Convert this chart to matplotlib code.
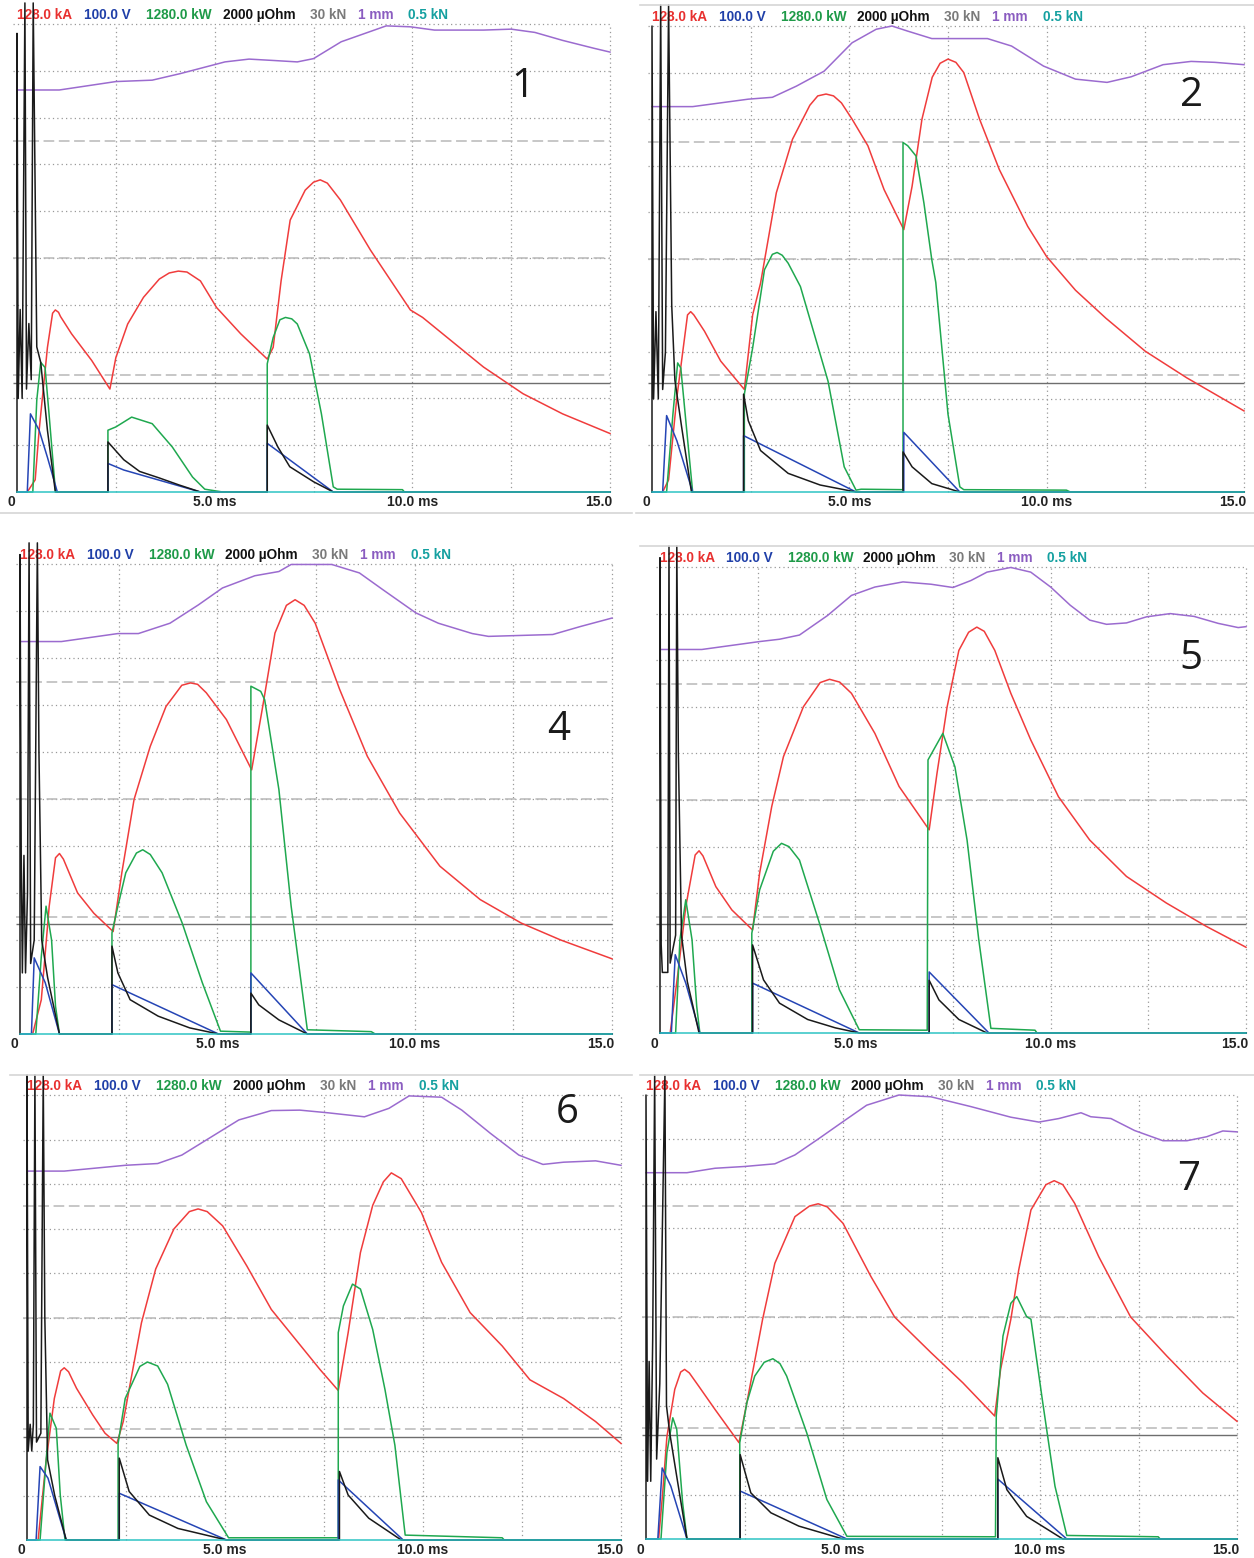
import matplotlib.pyplot as plt
from matplotlib.lines import Line2D

# traces: (time in ms, screen divisions 0..10)
# ---------- panel 1 ----------
p1_purple = [(0, 8.59), (1.07, 8.59), (2.5, 8.77), (3.42, 8.80), (4.13, 8.94), (5.26, 9.19), (5.87, 9.25),
             (6.5, 9.22), (7.09, 9.19), (7.5, 9.26), (8.2, 9.62), (9.34, 9.96), (9.95, 9.94), (10.56, 9.87),
             (11.8, 9.87), (12.5, 9.89), (13.1, 9.82), (13.8, 9.65), (14.6, 9.48), (15, 9.40)]
p1_red = [(0, 0), (0.26, 0), (0.46, 0.26), (0.56, 1.32), (0.77, 3.09), (0.9, 3.82), (0.97, 3.89), (1.05, 3.84),
          (1.1, 3.75), (1.38, 3.38), (1.89, 2.81), (2.35, 2.2), (2.5, 2.87), (2.8, 3.59), (3.2, 4.16), (3.6, 4.55),
          (3.85, 4.68), (4.08, 4.72), (4.3, 4.7), (4.64, 4.51), (5.05, 3.94), (5.66, 3.38), (6.33, 2.84),
          (6.48, 3.09), (6.68, 4.51), (6.91, 5.81), (7.29, 6.45), (7.5, 6.62), (7.67, 6.67), (7.85, 6.6),
          (8.18, 6.24), (8.94, 5.17), (9.95, 3.89), (10.26, 3.73), (11.8, 2.67), (12.8, 2.1), (13.8, 1.67),
          (15, 1.25)]
p1_green = [(0, 0), (0.4, 0), (0.5, 1.96), (0.6, 2.77), (0.71, 2.66), (0.81, 1.67), (0.97, 0.04), (1.0, 0),
            (2.3, 0), (2.3, 1.32), (2.5, 1.39), (2.9, 1.6), (3.42, 1.46), (3.93, 0.96), (4.44, 0.32), (4.75, 0.06),
            (5.05, 0.02), (5.2, 0), (6.33, 0), (6.33, 2.74), (6.48, 3.3), (6.65, 3.68), (6.79, 3.73), (6.95, 3.7),
            (7.09, 3.59), (7.4, 2.95), (7.7, 1.67), (8.0, 0.11), (8.1, 0.06), (9.75, 0.05), (9.8, 0), (15, 0)]
p1_blue = [(0, 0), (0.26, 0), (0.34, 1.67), (0.56, 1.32), (0.77, 0.74), (1.02, 0), (2.3, 0), (2.3, 0.61),
           (2.7, 0.47), (4.64, 0), (6.33, 0), (6.33, 1.04), (8.0, 0), (15, 0)]
p1_black = [(0, 0), (0, 9.8), (0.03, 2.0), (0.08, 3.9), (0.13, 2.0), (0.2, 10.45), (0.24, 2.2), (0.3, 3.6),
            (0.36, 2.4), (0.41, 10.45), (0.5, 3.1), (0.6, 2.77), (0.77, 1.32), (0.97, 0), (2.3, 0), (2.3, 1.07),
            (2.7, 0.69), (3.1, 0.44), (3.6, 0.3), (4.1, 0.15), (4.64, 0), (6.33, 0), (6.33, 1.43), (6.6, 0.96),
            (6.9, 0.54), (7.5, 0.22), (8.0, 0), (15, 0)]

# ---------- panel 2 ----------
p2_purple = [(0, 8.27), (1.03, 8.27), (2.44, 8.43), (3.05, 8.47), (3.66, 8.71), (4.36, 9.03), (5.07, 9.64),
             (5.68, 9.93), (6.08, 10.0), (6.48, 9.89), (7.09, 9.73), (8.5, 9.73), (9.11, 9.57), (9.92, 9.14),
             (10.73, 8.86), (11.53, 8.79), (12.14, 8.91), (12.95, 9.17), (13.66, 9.24), (14.26, 9.22), (15, 9.17)]
p2_red = [(0, 0), (0.27, 0), (0.42, 0.26), (0.63, 2.03), (0.9, 3.8), (0.98, 3.87), (1.06, 3.8), (1.33, 3.45),
          (1.74, 2.81), (2.34, 2.2), (2.55, 3.8), (2.75, 4.48), (3.15, 6.42), (3.56, 7.57), (4.0, 8.3),
          (4.2, 8.5), (4.41, 8.54), (4.6, 8.5), (4.8, 8.35), (5.07, 8.0), (5.47, 7.43), (5.88, 6.49),
          (6.38, 5.63), (6.59, 6.56), (6.84, 8.0), (7.1, 8.9), (7.3, 9.2), (7.5, 9.29), (7.7, 9.22), (7.9, 9.0),
          (8.3, 8.0), (8.8, 6.92), (9.52, 5.7), (10.0, 5.05), (10.73, 4.33), (11.5, 3.73), (12.5, 3.02),
          (13.55, 2.45), (15, 1.74)]
p2_green = [(0, 0), (0.37, 0), (0.53, 1.67), (0.65, 2.77), (0.73, 2.66), (0.88, 1.32), (1.03, 0), (2.34, 0),
            (2.34, 2.1), (2.55, 3.09), (2.85, 4.77), (3.05, 5.1), (3.17, 5.14), (3.3, 5.08), (3.45, 4.91),
            (3.76, 4.41), (4.46, 2.38), (4.87, 0.54), (5.17, 0.04), (5.3, 0.06), (6.36, 0.05), (6.36, 7.5),
            (6.48, 7.43), (6.69, 7.21), (6.89, 6.2), (7.09, 4.98), (7.19, 4.5), (7.5, 1.67), (7.8, 0.11),
            (7.9, 0.05), (10.5, 0.04), (10.6, 0), (15, 0)]
p2_blue = [(0, 0), (0.27, 0), (0.37, 1.64), (0.63, 1.1), (1.03, 0), (2.32, 0), (2.32, 1.21), (5.17, 0),
           (6.38, 0), (6.38, 1.28), (7.8, 0), (15, 0)]
p2_black = [(0, 0), (0, 10.0), (0.04, 2.0), (0.1, 3.87), (0.16, 2.0), (0.22, 10.45), (0.27, 2.2), (0.34, 3.0),
            (0.42, 10.45), (0.5, 4.0), (0.58, 2.4), (0.75, 1.4), (1.0, 0), (2.32, 0), (2.32, 2.1), (2.44, 1.53),
            (2.75, 0.89), (3.45, 0.4), (4.26, 0.15), (5.17, 0), (6.36, 0), (6.36, 0.86), (6.59, 0.54),
            (7.09, 0.18), (7.8, 0), (15, 0)]

# ---------- panel 4 ----------
p4_purple = [(0, 8.35), (1.05, 8.35), (2.48, 8.52), (3.0, 8.52), (3.8, 8.74), (4.52, 9.13), (5.13, 9.49),
             (5.95, 9.75), (6.56, 9.84), (6.87, 9.99), (7.9, 9.99), (8.6, 9.81), (9.2, 9.45), (10.03, 8.96),
             (10.6, 8.74), (11.46, 8.52), (11.87, 8.46), (13.5, 8.5), (14.2, 8.67), (15, 8.85)]
p4_red = [(0, 0), (0.32, 0), (0.54, 0.73), (0.74, 2.72), (0.9, 3.75), (1.0, 3.84), (1.1, 3.72), (1.46, 3.0),
          (1.87, 2.57), (2.36, 2.18), (2.58, 3.43), (2.89, 4.99), (3.3, 6.12), (3.7, 6.97), (4.1, 7.42),
          (4.32, 7.47), (4.5, 7.44), (4.72, 7.26), (5.23, 6.69), (5.87, 5.62), (6.15, 6.97), (6.46, 8.53),
          (6.75, 9.12), (6.97, 9.24), (7.2, 9.12), (7.48, 8.74), (8.1, 7.33), (8.8, 5.91), (9.62, 4.7),
          (10.64, 3.57), (11.66, 2.86), (12.7, 2.36), (13.7, 2.0), (15, 1.6)]
p4_green = [(0, 0), (0.4, 0), (0.54, 1.65), (0.66, 2.72), (0.8, 2.0), (0.9, 0.59), (1.0, 0), (2.33, 0),
            (2.33, 2.15), (2.48, 2.72), (2.68, 3.43), (2.95, 3.85), (3.11, 3.92), (3.3, 3.82), (3.6, 3.43),
            (4.11, 2.36), (4.62, 1.09), (5.08, 0.06), (5.85, 0.04), (5.85, 7.4), (6.1, 7.29), (6.2, 7.11),
            (6.56, 5.2), (6.87, 2.72), (7.28, 0.09), (8.9, 0.05), (9.0, 0), (15, 0)]
p4_blue = [(0, 0), (0.29, 0), (0.36, 1.62), (0.64, 1.09), (1.0, 0), (2.33, 0), (2.33, 1.05), (5.03, 0),
           (5.85, 0), (5.85, 1.3), (7.28, 0), (15, 0)]
p4_black = [(0, 0), (0, 10.2), (0.03, 3.9), (0.06, 1.3), (0.1, 3.8), (0.14, 1.3), (0.19, 3.0), (0.23, 10.45),
            (0.27, 1.5), (0.36, 2.0), (0.44, 10.45), (0.48, 6.0), (0.55, 2.0), (0.7, 1.2), (1.0, 0), (2.33, 0),
            (2.33, 1.87), (2.48, 1.3), (2.79, 0.73), (3.5, 0.38), (4.3, 0.13), (5.03, 0), (5.85, 0),
            (5.85, 0.87), (6.05, 0.62), (6.56, 0.3), (7.28, 0), (15, 0)]

# ---------- panel 5 ----------
p5_purple = [(0, 8.23), (1.07, 8.23), (2.55, 8.4), (3.06, 8.45), (3.57, 8.54), (4.29, 8.96), (4.9, 9.39),
             (5.5, 9.57), (6.22, 9.68), (6.94, 9.63), (7.5, 9.56), (7.96, 9.71), (8.37, 9.89), (8.98, 9.99),
             (9.49, 9.89), (10.0, 9.57), (10.5, 9.18), (11.0, 8.86), (11.43, 8.77), (11.94, 8.8), (12.45, 8.93),
             (13.06, 9.0), (13.67, 8.94), (14.29, 8.79), (14.8, 8.7), (15, 8.72)]
p5_red = [(0, 0), (0.26, 0), (0.46, 1.29), (0.66, 2.71), (0.9, 3.82), (1.0, 3.91), (1.1, 3.8), (1.43, 3.14),
          (1.84, 2.64), (2.37, 2.21), (2.55, 3.43), (2.86, 4.86), (3.16, 5.93), (3.67, 7.0), (4.1, 7.52),
          (4.34, 7.59), (4.6, 7.53), (4.9, 7.29), (5.5, 6.43), (6.12, 5.29), (6.89, 4.36), (7.09, 5.57),
          (7.35, 7.0), (7.65, 8.21), (7.9, 8.6), (8.11, 8.71), (8.3, 8.62), (8.57, 8.21), (8.98, 7.29),
          (9.49, 6.29), (10.2, 5.07), (11.0, 4.14), (11.94, 3.36), (12.96, 2.79), (13.98, 2.29), (15, 1.84)]
p5_green = [(0, 0), (0.4, 0), (0.51, 2.0), (0.66, 2.86), (0.82, 2.0), (0.94, 0.57), (1.02, 0), (2.35, 0),
            (2.35, 2.14), (2.55, 3.07), (2.9, 3.9), (3.11, 4.07), (3.3, 4.0), (3.57, 3.71), (4.08, 2.36),
            (4.59, 0.93), (5.1, 0.07), (6.84, 0.06), (6.86, 5.86), (7.24, 6.43), (7.55, 5.71), (7.86, 4.14),
            (8.16, 2.0), (8.47, 0.1), (9.6, 0.06), (9.65, 0), (15, 0)]
p5_blue = [(0, 0), (0.29, 0), (0.39, 1.68), (0.66, 1.07), (1.02, 0), (2.37, 0), (2.37, 1.07), (5.1, 0),
           (6.89, 0), (6.89, 1.31), (8.42, 0), (15, 0)]
p5_black = [(0, 0), (0, 10.2), (0.03, 1.9), (0.06, 1.3), (0.2, 1.3), (0.23, 10.45), (0.26, 1.5), (0.4, 2.1),
            (0.43, 10.45), (0.47, 6.0), (0.55, 2.1), (0.7, 1.1), (1.0, 0), (2.37, 0), (2.37, 1.89), (2.65, 1.14),
            (3.06, 0.64), (3.78, 0.29), (4.49, 0.11), (5.1, 0), (6.89, 0), (6.89, 1.13), (7.14, 0.71),
            (7.65, 0.29), (8.37, 0), (15, 0)]

# ---------- panel 6 ----------
p6_purple = [(0, 8.29), (0.94, 8.29), (2.48, 8.42), (3.3, 8.46), (3.91, 8.65), (4.53, 8.99), (5.35, 9.44),
             (6.17, 9.65), (6.89, 9.66), (7.6, 9.6), (8.52, 9.51), (9.14, 9.7), (9.65, 9.98), (10.47, 9.95),
             (10.98, 9.66), (11.7, 9.14), (12.42, 8.65), (13.03, 8.44), (13.55, 8.49), (14.36, 8.52), (15, 8.42)]
p6_red = [(0, 0), (0.28, 0), (0.48, 1.76), (0.69, 3.18), (0.85, 3.8), (0.94, 3.87), (1.05, 3.78), (1.25, 3.41),
          (1.66, 2.81), (1.97, 2.4), (2.27, 2.17), (2.43, 2.66), (2.63, 3.63), (2.89, 4.88), (3.25, 6.09),
          (3.71, 6.99), (4.1, 7.38), (4.32, 7.44), (4.55, 7.38), (4.94, 7.06), (5.55, 6.16), (6.17, 5.18),
          (6.78, 4.51), (7.4, 3.83), (7.86, 3.36), (8.11, 4.66), (8.42, 6.46), (8.73, 7.52), (9.0, 8.05),
          (9.2, 8.25), (9.45, 8.12), (9.96, 7.36), (10.47, 6.24), (11.19, 5.11), (12.0, 4.36), (12.7, 3.6),
          (13.55, 3.18), (14.36, 2.66), (15, 2.17)]
p6_green = [(0, 0), (0.33, 0), (0.48, 1.76), (0.58, 2.85), (0.74, 2.51), (0.84, 1.01), (0.96, 0), (2.3, 0),
            (2.3, 2.17), (2.48, 3.18), (2.85, 3.9), (3.04, 4.0), (3.3, 3.91), (3.55, 3.5), (4.02, 2.13),
            (4.53, 0.86), (5.09, 0.05), (7.86, 0.05), (7.86, 4.66), (7.99, 5.26), (8.22, 5.75), (8.42, 5.64),
            (8.73, 4.73), (9.04, 3.38), (9.29, 2.13), (9.55, 0.11), (12.0, 0.05), (12.05, 0), (15, 0)]
p6_blue = [(0, 0), (0.23, 0), (0.33, 1.65), (0.53, 1.39), (0.99, 0), (2.33, 0), (2.33, 1.05), (5.04, 0),
           (7.86, 0), (7.86, 1.35), (9.5, 0), (15, 0)]
p6_black = [(0, 0), (0, 10.45), (0.03, 2.0), (0.08, 2.6), (0.12, 2.0), (0.16, 2.6), (0.2, 10.45), (0.24, 2.2),
            (0.35, 2.4), (0.41, 10.45), (0.45, 5.0), (0.52, 1.8), (0.7, 1.0), (0.99, 0), (2.33, 0), (2.33, 1.84),
            (2.58, 1.09), (3.09, 0.56), (3.81, 0.26), (5.04, 0), (7.89, 0), (7.89, 1.54), (8.11, 1.01),
            (8.63, 0.49), (9.45, 0), (15, 0)]

# ---------- panel 7 ----------
p7_purple = [(0, 8.25), (1.04, 8.25), (1.75, 8.35), (2.5, 8.39), (3.27, 8.45), (3.78, 8.65), (4.39, 9.02),
             (5.0, 9.4), (5.6, 9.77), (6.42, 10.0), (7.23, 9.96), (8.24, 9.74), (9.26, 9.5), (9.97, 9.39),
             (10.48, 9.47), (11.04, 9.6), (11.29, 9.51), (11.8, 9.47), (12.4, 9.2), (13.12, 8.97), (13.73, 8.97),
             (14.23, 9.06), (14.64, 9.19), (15, 9.17)]
p7_red = [(0, 0), (0.32, 0), (0.42, 1.0), (0.53, 2.3), (0.73, 3.37), (0.88, 3.76), (0.98, 3.82), (1.1, 3.74),
          (1.34, 3.44), (1.75, 2.92), (2.36, 2.17), (2.56, 3.07), (2.96, 4.95), (3.27, 6.21), (3.78, 7.26),
          (4.15, 7.5), (4.37, 7.55), (4.6, 7.48), (5.0, 7.11), (5.71, 5.91), (6.31, 5.0), (7.23, 4.2),
          (8.04, 3.52), (8.85, 2.77), (9.0, 3.82), (9.26, 4.95), (9.46, 6.06), (9.77, 7.41), (10.15, 7.98),
          (10.36, 8.07), (10.58, 7.98), (10.88, 7.56), (11.49, 6.36), (12.3, 5.0), (13.22, 4.12), (14.13, 3.29),
          (15, 2.65)]
p7_green = [(0, 0), (0.38, 0), (0.53, 1.94), (0.68, 2.73), (0.78, 2.47), (0.93, 0.81), (1.04, 0), (2.38, 0),
            (2.38, 2.17), (2.56, 3.07), (2.76, 3.67), (3.0, 3.98), (3.22, 4.06), (3.4, 3.95), (3.57, 3.67),
            (4.08, 2.39), (4.59, 0.89), (5.1, 0.06), (8.87, 0.05), (8.89, 2.77), (9.06, 4.57), (9.26, 5.31),
            (9.41, 5.46), (9.66, 5.01), (9.77, 4.95), (10.07, 3.07), (10.38, 1.19), (10.68, 0.08), (13.0, 0.05),
            (13.05, 0), (15, 0)]
p7_blue = [(0, 0), (0.3, 0), (0.41, 1.6), (0.63, 1.19), (1.04, 0), (2.39, 0), (2.39, 1.08), (5.1, 0),
           (8.93, 0), (8.93, 1.35), (10.68, 0), (15, 0)]
p7_black = [(0, 0), (0, 10.0), (0.04, 1.3), (0.08, 4.0), (0.12, 1.3), (0.17, 4.5), (0.22, 10.45), (0.27, 1.8),
            (0.35, 3.5), (0.48, 10.45), (0.52, 3.0), (0.6, 2.4), (0.8, 1.3), (1.04, 0), (2.39, 0), (2.39, 1.9),
            (2.66, 1.04), (3.17, 0.59), (3.88, 0.29), (5.0, 0), (8.93, 0), (8.93, 1.83), (9.16, 1.11),
            (9.66, 0.51), (10.58, 0), (15, 0)]

# flat force trace (30 kN channel) and the 0.5 kN channel
force_level = [2.33, 2.33, 2.34, 2.34, 2.31, 2.35]
small_force = [(0, 0), (15, 0)]

panel_names = ["1", "2", "4", "5", "6", "7"]
number_pos = [(12.8, 8.65), (13.66, 8.5), (13.65, 6.47), (13.6, 8.04), (13.65, 9.6), (13.78, 8.1)]

header_texts = ["128.0 kA", "100.0 V", "1280.0 kW", "2000 \u00b5Ohm", "30 kN", "1 mm", "0.5 kN"]
header_t = [0, 1.70, 3.27, 5.2, 7.4, 8.62, 9.9]
header_colors = ["#e8302f", "#1f3fa8", "#1e9a48", "#111111", "#7a7a7a", "#8a5cc0", "#14a0a0"]

tick_t = [-0.15, 5, 10, 15.05]
tick_labels = ["0", "5.0 ms", "10.0 ms", "15.0"]

# screen position of each oscillogram: x at 0 ms, x at 15 ms, y of zero line, y of top division
layout = [(17, 610, 492, 24), (652, 1244, 492, 26),
          (20, 612, 1034, 564), (660, 1246, 1033, 567),
          (27, 621, 1540, 1095), (646, 1237, 1539, 1095)]

traces = [
    (p1_purple, p1_red, p1_green, p1_blue, p1_black),
    (p2_purple, p2_red, p2_green, p2_blue, p2_black),
    (p4_purple, p4_red, p4_green, p4_blue, p4_black),
    (p5_purple, p5_red, p5_green, p5_blue, p5_black),
    (p6_purple, p6_red, p6_green, p6_blue, p6_black),
    (p7_purple, p7_red, p7_green, p7_blue, p7_black),
]

W, H = 1254, 1558
fig = plt.figure(figsize=(W / 100, H / 100), dpi=100)
fig.patch.set_facecolor("white")

HEAD_FONT = ["Liberation Sans", "DejaVu Sans"]
DOT = (0, (1, 2.5))
DASH = (0, (7, 3))

for i in range(6):
    x0, x15, y0, y10 = layout[i]
    sx = (x15 - x0) / 15.0
    sy = (y0 - y10) / 10.0
    xlo, xhi, ylo, yhi = -0.5, 15.1, -0.35, 10.5
    left = x0 + xlo * sx
    right = x0 + xhi * sx
    bottom = y0 - ylo * sy
    top = y0 - yhi * sy
    ax = fig.add_axes([left / W, 1 - bottom / H, (right - left) / W, (bottom - top) / H])
    ax.set_xlim(xlo, xhi)
    ax.set_ylim(ylo, yhi)
    ax.axis("off")

    # grid
    ax.vlines([2.5, 5, 7.5, 10, 12.5, 15], 0, 10, colors="#999999", linestyles=DOT, lw=0.9, zorder=1)
    ax.hlines(range(1, 11), -0.1, 15, colors="#999999", linestyles=DOT, lw=0.9, zorder=1)
    ax.hlines([2.5, 5, 7.5], -0.1, 15, colors="#b8b8b8", linestyles=DASH, lw=1.1, zorder=1)
    ax.hlines(force_level[i], -0.1, 15, colors="#6e6e6e", lw=1.0, zorder=2)

    purple, red, green, blue, black = traces[i]
    for pts, col, z in [(purple, "#9b6bcf", 3), (red, "#f03c3c", 3), (green, "#1fa84f", 4),
                        (blue, "#2545b5", 5), (black, "#1a1a1a", 6), (small_force, "#2ec4c4", 7)]:
        t, v = zip(*pts)
        ax.plot(t, v, color=col, lw=1.1, zorder=z, solid_joinstyle="round")

    # channel scale header
    for txt, tt, col in zip(header_texts, header_t, header_colors):
        ax.text(tt, 10 + 9.0 / sy, txt, color=col, fontsize=9.8, fontweight="bold", family=HEAD_FONT,
                ha="left", va="center", clip_on=False, zorder=2)

    # time axis labels
    for tt, lab in zip(tick_t, tick_labels):
        ax.text(tt, -10.5 / sy, lab, color="#222222", fontsize=10, fontweight="bold", family=HEAD_FONT,
                ha="right" if lab == "15.0" else "center", va="center", clip_on=False)

    nx, ny = number_pos[i]
    ax.text(nx, ny, panel_names[i], fontsize=29, family=["Open Sans", "DejaVu Sans"], color="#1a1a1a",
            ha="center", va="center", zorder=8)

# thin screenshot borders
for xa, xb, y in [(0, 632, 513), (636, 1254, 513), (640, 1254, 5), (640, 1254, 546),
                  (10, 632, 1075), (640, 1254, 1075)]:
    fig.add_artist(Line2D([xa / W, xb / W], [1 - y / H, 1 - y / H], color="#d6d6d6", lw=1.2))

fig.savefig("out.png", dpi=100, facecolor="white")
